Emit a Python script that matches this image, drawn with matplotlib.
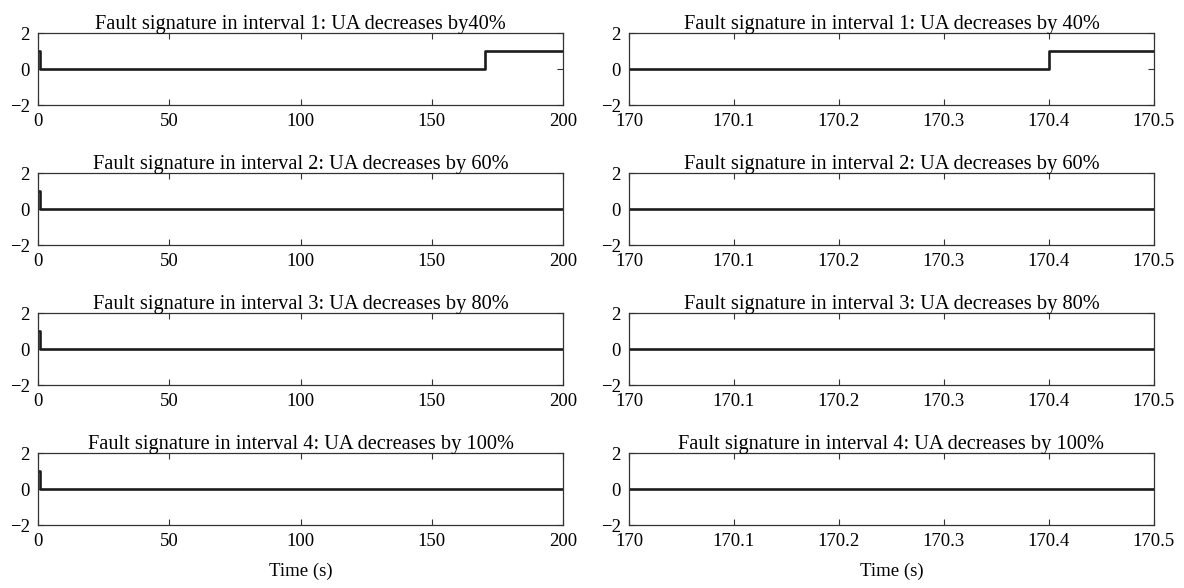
import matplotlib
matplotlib.use("Agg")
import matplotlib.pyplot as plt

plt.rcParams["font.family"] = ["Liberation Serif", "DejaVu Serif"]

# full 0-200 s run: spike at start, then flat; interval 1 steps up at 170.4 s
LEFT_T = [0.0, 0.8, 0.8, 170.4, 170.4, 200.0]
LEFT_Y1 = [1.0, 1.0, 0.0, 0.0, 1.0, 1.0]
LEFT_Y_FLAT = [1.0, 1.0, 0.0, 0.0, 0.0, 0.0]

# zoomed window 170-170.5 s
RIGHT_T = [170.0, 170.4, 170.4, 170.5]
RIGHT_Y1 = [0.0, 0.0, 1.0, 1.0]
RIGHT_Y_FLAT = [0.0, 0.0, 0.0, 0.0]

TITLES_LEFT = [
    "Fault signature in interval 1: UA decreases by40%",
    "Fault signature in interval 2: UA decreases by 60%",
    "Fault signature in interval 3: UA decreases by 80%",
    "Fault signature in interval 4: UA decreases by 100%",
]
TITLES_RIGHT = [
    "Fault signature in interval 1: UA decreases by 40%",
    "Fault signature in interval 2: UA decreases by 60%",
    "Fault signature in interval 3: UA decreases by 80%",
    "Fault signature in interval 4: UA decreases by 100%",
]

LEFT_XTICKS = [0, 50, 100, 150, 200]
RIGHT_XTICKS = [170, 170.1, 170.2, 170.3, 170.4, 170.5]
RIGHT_XLABELS = ["170", "170.1", "170.2", "170.3", "170.4", "170.5"]
YTICKS = [-2, 0, 2]

FS = 13.5
FS_TITLE = 14.7
LINE_C = "#1c1c1c"

fig = plt.figure(figsize=(11.84, 5.88), dpi=100)

W, H = 1184, 588
ax_w = 525 / W
ax_h = 72 / H
lefts = [38 / W, 629 / W]
bottoms = [1 - (105 + 140 * i) / H for i in range(4)]


def style(ax):
    for s in ax.spines.values():
        s.set_color("#333333")
        s.set_linewidth(0.9)
    ax.tick_params(direction="in", top=True, right=True, length=4,
                   width=0.8, color="#333333", labelsize=FS)
    ax.tick_params(axis="x", pad=6)
    ax.tick_params(axis="y", pad=6)
    ax.set_ylim(-2, 2)
    ax.set_yticks(YTICKS)
    ax.set_yticklabels(["\u22122", "0", "2"])


for i in range(4):
    axl = fig.add_axes([lefts[0], bottoms[i], ax_w, ax_h])
    yl = LEFT_Y1 if i == 0 else LEFT_Y_FLAT
    axl.plot(LEFT_T, yl, color=LINE_C, lw=1.9)
    axl.set_xlim(0, 200)
    axl.set_xticks(LEFT_XTICKS)
    style(axl)
    axl.set_title(TITLES_LEFT[i], fontsize=FS_TITLE, pad=3)

    axr = fig.add_axes([lefts[1], bottoms[i], ax_w, ax_h])
    yr = RIGHT_Y1 if i == 0 else RIGHT_Y_FLAT
    axr.plot(RIGHT_T, yr, color=LINE_C, lw=1.9)
    axr.set_xlim(170, 170.5)
    axr.set_xticks(RIGHT_XTICKS)
    axr.set_xticklabels(RIGHT_XLABELS)
    style(axr)
    axr.set_title(TITLES_RIGHT[i], fontsize=FS_TITLE, pad=3)

    if i == 3:
        axl.set_xlabel("Time (s)", fontsize=FS, labelpad=9)
        axr.set_xlabel("Time (s)", fontsize=FS, labelpad=9)

fig.savefig("out.png", dpi=100, facecolor="white")
